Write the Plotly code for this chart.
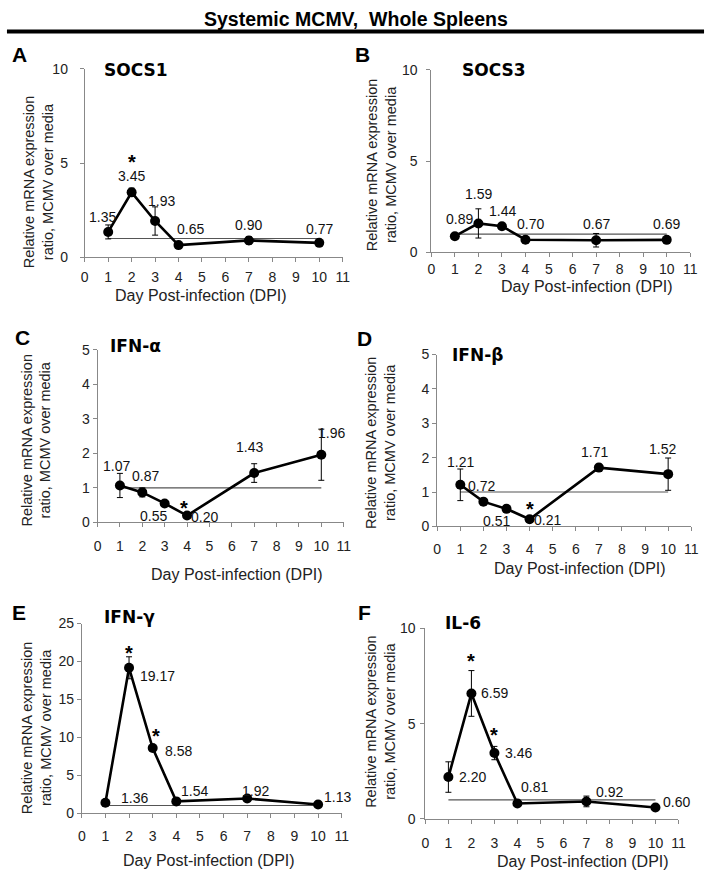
import plotly.graph_objects as go

W, H = 714, 879
FONT = "Liberation Sans, Arial, sans-serif"
BOLD_FONT = "DejaVu Sans, Liberation Sans, Arial, sans-serif"

# ---------------- data ----------------
days = [1, 2, 3, 4, 7, 10]
x_ticks = list(range(0, 12))

socs1 = [1.35, 3.45, 1.93, 0.65, 0.90, 0.77]
socs1_err = [0.37, 0.22, 0.75, 0.06, 0.2, 0.06]
socs3 = [0.89, 1.59, 1.44, 0.70, 0.67, 0.69]
socs3_err = [0.06, 0.8, 0.08, 0.05, 0.37, 0.05]
ifna = [1.07, 0.87, 0.55, 0.20, 1.43, 1.96]
ifna_err = [0.35, 0.13, 0.04, 0.03, 0.27, 0.74]
ifnb = [1.21, 0.72, 0.51, 0.21, 1.71, 1.52]
ifnb_err = [0.46, 0.04, 0.1, 0.03, 0.1, 0.47]
ifng = [1.36, 19.17, 8.58, 1.54, 1.92, 1.13]
ifng_err = [0.15, 1.45, 0.3, 0.15, 0.2, 0.1]
il6 = [2.20, 6.59, 3.46, 0.81, 0.92, 0.60]
il6_err = [0.8, 1.2, 0.35, 0.08, 0.28, 0.05]

baseline = 1.0

panel_names = ["SOCS1", "SOCS3", "IFN-α", "IFN-β", "IFN-γ", "IL-6"]
panel_letters = ["A", "B", "C", "D", "E", "F"]
panel_values = [socs1, socs3, ifna, ifnb, ifng, il6]
panel_errors = [socs1_err, socs3_err, ifna_err, ifnb_err, ifng_err, il6_err]
y_max = [10, 10, 5, 5, 25, 10]
y_dtick = [5, 5, 1, 1, 5, 5]
# significance stars: day indices per panel
stars = [[1], [], [3], [3], [1, 2], [1, 2]]

# ---------------- layout/style config (pixels) ----------------
# plot area boxes: (left, right, top, bottom)
boxes = [
    (82, 344, 62, 254),
    (434, 697, 63, 249),
    (95, 345, 348, 524),
    (440, 698, 353, 528),
    (79, 343, 627, 820),
    (428, 685, 632, 826),
]
x_label_standoff = [3, 0, 7, 6, 6, 7]
y_label_standoff = [9, 6, 0, 0, 0, 2]
# label pixel offsets (dx, dy_up) relative to each point
label_offsets = [
    [(-6, 15), (0, 16), (6, 20), (12, 16), (0, 15), (0, 14)],
    [(5, 17), (0, 29), (1, 15), (5, 16), (0, 16), (0, 16)],
    [(-3, 19), (3, 16), (-11, -13), (17, -1), (-5, 26), (10, 22)],
    [(0, 23), (-2, 16), (-10, -12), (18, -1), (-4, 16), (-6, 25)],
    [(29, 5), (28, -8), (26, -3), (18, 10), (8, 8), (19, 8)],
    [(24, 0), (23, 0), (24, 0), (17, 17), (23, 9), (21, 6)],
]
star_offsets = [
    [(0, 34)],
    [],
    [(-3, 12)],
    [(0, 14)],
    [(0, 19), (3, 16)],
    [(0, 36), (0, 22)],
]
letter_pos = [(16, 47), (364, 47), (19, 336), (366, 337), (15, 616), (366, 616)]
name_pos = [(100, 63), (463, 63), (106, 344), (453, 353), (100, 620), (446, 626)]
ytitle_pos = [(35, 177), (383, 160), (33, 440), (383, 443), (33, 733), (383, 727)]
xtitle_pos = [(200, 293), (592, 284), (237, 577), (585, 571), (208, 868), (588, 869)]


def px(x):
    return x / W


def py(y):
    return 1 - y / H


fig = go.Figure()
annotations = []
layout = {}

for i in range(6):
    n = "" if i == 0 else str(i + 1)
    xa, ya = "x" + n, "y" + n
    l, r, t, b = boxes[i]
    layout["xaxis" + n] = dict(
        domain=[px(l), px(r)], range=[0, 11], anchor=ya,
        tickmode="array", tickvals=x_ticks, ticks="outside", ticklen=4,
        tickcolor="#888", showline=True, linecolor="#888", linewidth=1,
        showgrid=False, zeroline=False, ticklabelstandoff=x_label_standoff[i],
        tickfont=dict(family=FONT, size=14, color="#222"),
    )
    layout["yaxis" + n] = dict(
        domain=[py(b), py(t)], range=[0, y_max[i]], anchor=xa,
        tick0=0, dtick=y_dtick[i], ticks="outside", ticklen=4,
        tickcolor="#888", showline=True, linecolor="#888", linewidth=1,
        showgrid=False, zeroline=False, ticklabelstandoff=y_label_standoff[i],
        tickfont=dict(family=FONT, size=14, color="#222"),
    )
    # baseline
    fig.add_trace(go.Scatter(
        x=[days[0], days[-1]], y=[baseline, baseline], mode="lines",
        line=dict(color="#555", width=1.2), xaxis=xa, yaxis=ya,
        showlegend=False, hoverinfo="skip"))
    # data
    fig.add_trace(go.Scatter(
        x=days, y=panel_values[i], mode="lines+markers",
        line=dict(color="black", width=2.6),
        marker=dict(color="black", size=10),
        error_y=dict(type="data", array=panel_errors[i], visible=True,
                     color="black", thickness=1, width=3),
        xaxis=xa, yaxis=ya, showlegend=False))
    # value labels
    for j, (d, v) in enumerate(zip(days, panel_values[i])):
        dx, dy = label_offsets[i][j]
        annotations.append(dict(
            x=d, y=v, xref=xa, yref=ya, text=f"{v:.2f}", showarrow=False,
            xshift=dx, yshift=dy, font=dict(family=FONT, size=14, color="#111")))
    # stars
    for k, j in enumerate(stars[i]):
        dx, dy = star_offsets[i][k]
        annotations.append(dict(
            x=days[j], y=panel_values[i][j], xref=xa, yref=ya, text="<b>*</b>",
            showarrow=False, xshift=dx, yshift=dy - 4,
            font=dict(family=FONT, size=20, color="black")))
    # panel letter
    lx, ly = letter_pos[i]
    annotations.append(dict(
        x=px(lx), y=py(ly), xref="paper", yref="paper", text=f"<b>{panel_letters[i]}</b>",
        showarrow=False, xanchor="center", yanchor="middle",
        font=dict(family=FONT, size=21, color="black")))
    # gene name
    nx, ny = name_pos[i]
    annotations.append(dict(
        x=px(nx), y=py(ny), xref="paper", yref="paper", text=f"<b>{panel_names[i]}</b>",
        showarrow=False, xanchor="left", yanchor="middle",
        font=dict(family=BOLD_FONT, size=17, color="black")))
    # y title
    tx, ty = ytitle_pos[i]
    annotations.append(dict(
        x=px(tx), y=py(ty), xref="paper", yref="paper",
        text="Relative mRNA expression<br>ratio, MCMV over media",
        showarrow=False, textangle=-90, xanchor="center", yanchor="middle",
        font=dict(family=FONT, size=14.5, color="#222")))
    # x title
    tx, ty = xtitle_pos[i]
    annotations.append(dict(
        x=px(tx), y=py(ty), xref="paper", yref="paper",
        text="Day Post-infection (DPI)", showarrow=False,
        xanchor="center", yanchor="middle",
        font=dict(family=FONT, size=16, color="#222")))

# main title
annotations.append(dict(
    x=px(357), y=py(11), xref="paper", yref="paper",
    text="<b>Systemic MCMV,  Whole Spleens</b>", showarrow=False,
    xanchor="center", yanchor="middle",
    font=dict(family=FONT, size=19.5, color="black")))

fig.update_layout(
    width=W, height=H, autosize=False,
    margin=dict(l=0, r=0, t=0, b=0),
    paper_bgcolor="white", plot_bgcolor="white",
    annotations=annotations,
    shapes=[dict(type="line", xref="paper", yref="paper", layer="above",
                 x0=px(3), x1=px(711), y0=py(24), y1=py(24),
                 line=dict(color="black", width=4))],
    **layout,
)

fig.write_html(
    "out.html",
    config={"displayModeBar": False},
    post_script="document.body.style.margin='0';document.body.style.padding='0';",
)
